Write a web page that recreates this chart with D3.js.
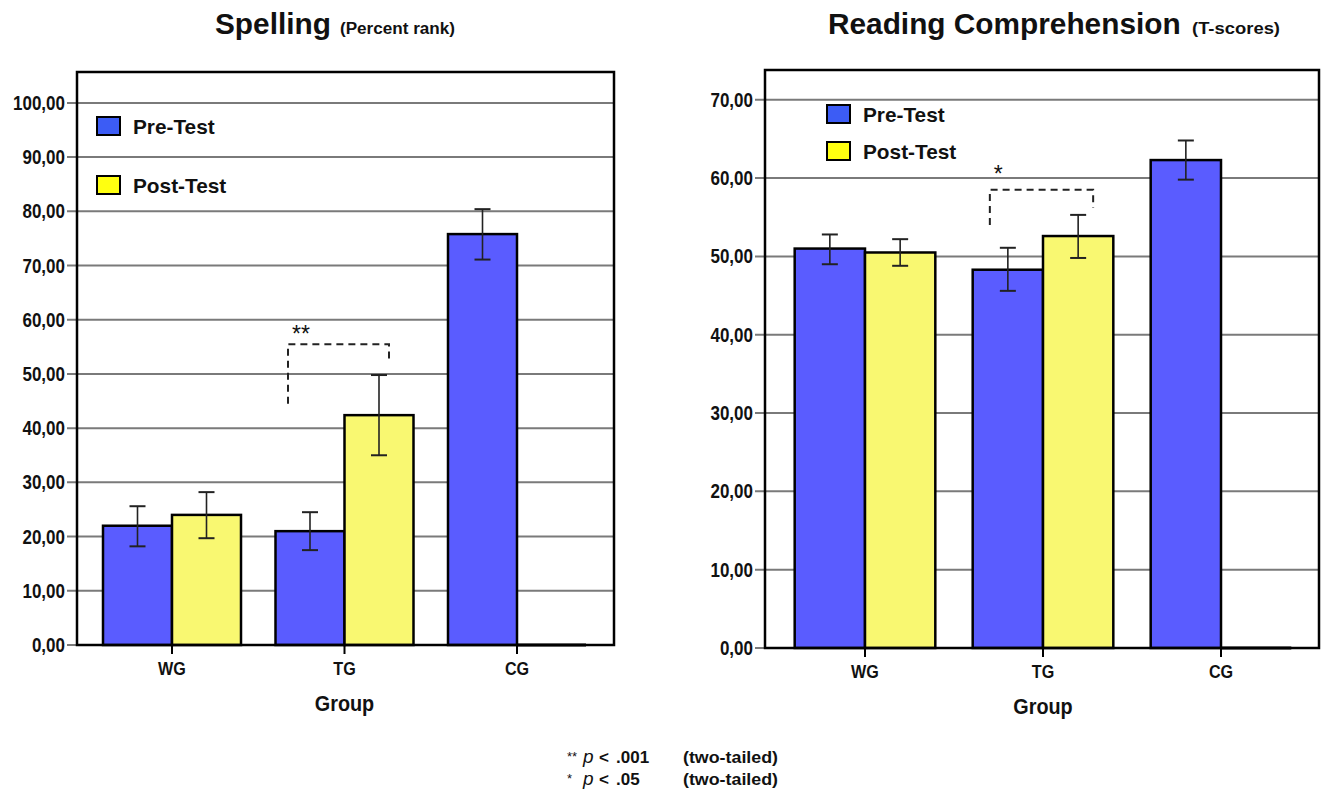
<!doctype html>
<html>
<head>
<meta charset="utf-8">
<script src="https://cdn.jsdelivr.net/npm/d3@7"></script>
<style>
  body { margin: 0; background: #fff; }
  svg { display: block; }
  text { font-family: "Liberation Sans", Arial, sans-serif; fill: #111; }
  .tick-lbl { font-weight: bold; font-size: 20px; }
  .cat-lbl { font-weight: bold; font-size: 19px; }
  .ax-title { font-weight: bold; font-size: 22px; }
  .legend-lbl { font-weight: bold; font-size: 21px; }
</style>
</head>
<body>
<svg id="chart" width="1321" height="795"></svg>
<script>
// ---- data ----
var groups = ["WG", "TG", "CG"];
var seriesNames = ["Pre-Test", "Post-Test"];

var spellingPre = [22.0, 21.0, 75.8];
var spellingPost = [24.0, 42.4, 0];
var spellingPreErr = [[18.2, 25.6], [17.5, 24.5], [71.1, 80.4]];
var spellingPostErr = [[19.7, 28.2], [35.0, 49.8], null];
var spellingTicks = [0, 10, 20, 30, 40, 50, 60, 70, 80, 90, 100];

var readingPre = [51.0, 48.3, 62.3];
var readingPost = [50.5, 52.6, 0];
var readingPreErr = [[49.0, 52.8], [45.6, 51.1], [59.8, 64.8]];
var readingPostErr = [[48.8, 52.2], [49.8, 55.3], null];
var readingTicks = [0, 10, 20, 30, 40, 50, 60, 70];

var colors = { bar: ["#5a5cff", "#f9f871"], swatch: ["#3c5cf5", "#ffff10"] };
var fmt = function (v) { return d3.format(".2f")(v).replace(".", ","); };

var svg = d3.select("#chart");

// squeeze text horizontally, the original uses a narrow font
function condense(sel, f) {
  sel.each(function () {
    var len = this.getComputedTextLength();
    d3.select(this).attr("textLength", len * f).attr("lengthAdjust", "spacingAndGlyphs");
  });
  return sel;
}

function drawPanel(cfg) {
  var g = svg.append("g");
  var x = d3.scaleBand().domain(groups).range([cfg.left + cfg.padL, cfg.right - cfg.padR]);
  var gw = x.bandwidth() * cfg.groupFrac;
  var xs = d3.scaleBand().domain(seriesNames).range([(x.bandwidth() - gw) / 2, (x.bandwidth() + gw) / 2]);
  var y = d3.scaleLinear().domain([0, cfg.yMax]).range([cfg.bottom, cfg.top]);

  // grid lines + y tick marks
  g.selectAll(".grid").data(cfg.ticks).join("line")
    .attr("x1", cfg.left - 10).attr("x2", cfg.right)
    .attr("y1", function (d) { return y(d); }).attr("y2", function (d) { return y(d); })
    .attr("stroke", "#7a7a7a").attr("stroke-width", 2);
  g.selectAll(".tick-lbl").data(cfg.ticks).join("text")
    .attr("class", "tick-lbl")
    .attr("x", cfg.left - 12).attr("y", function (d) { return y(d) + 7; })
    .attr("text-anchor", "end").text(fmt)
    .call(condense, 0.85);

  var rows = [];
  groups.forEach(function (grp, i) {
    rows.push({ grp: grp, s: 0, v: cfg.pre[i], err: cfg.preErr[i] });
    rows.push({ grp: grp, s: 1, v: cfg.post[i], err: cfg.postErr[i] });
  });

  // bars
  rows.forEach(function (r) {
    var x0 = x(r.grp) + xs(seriesNames[r.s]);
    if (r.v > 0) {
      g.append("rect")
        .attr("x", x0).attr("y", y(r.v))
        .attr("width", xs.bandwidth()).attr("height", y(0) - y(r.v))
        .attr("fill", colors.bar[r.s]).attr("stroke", "#000").attr("stroke-width", 2.5);
    } else {
      g.append("line")
        .attr("x1", x0).attr("x2", x0 + xs.bandwidth())
        .attr("y1", y(0)).attr("y2", y(0))
        .attr("stroke", "#000").attr("stroke-width", 3);
    }
  });

  // error bars
  rows.filter(function (r) { return r.err; }).forEach(function (r) {
    var cx = x(r.grp) + xs(seriesNames[r.s]) + xs.bandwidth() / 2;
    var eb = g.append("g").attr("stroke", "#222").attr("stroke-width", 1.6);
    eb.append("line").attr("x1", cx).attr("x2", cx).attr("y1", y(r.err[0])).attr("y2", y(r.err[1]));
    r.err.forEach(function (e) {
      eb.append("line").attr("x1", cx - 8).attr("x2", cx + 8).attr("y1", y(e)).attr("y2", y(e)).attr("stroke-width", 2);
    });
  });

  // frame
  g.append("rect")
    .attr("x", cfg.left).attr("y", cfg.top)
    .attr("width", cfg.right - cfg.left).attr("height", cfg.bottom - cfg.top)
    .attr("fill", "none").attr("stroke", "#000").attr("stroke-width", 2.5);

  // x ticks and labels
  groups.forEach(function (grp) {
    var cx = x(grp) + x.bandwidth() / 2;
    g.append("line").attr("x1", cx).attr("x2", cx).attr("y1", cfg.bottom).attr("y2", cfg.bottom + 9)
      .attr("stroke", "#000").attr("stroke-width", 2);
    g.append("text").attr("class", "cat-lbl").attr("x", cx).attr("y", cfg.bottom + 30)
      .attr("text-anchor", "middle").text(grp).call(condense, 0.85);
  });
  g.append("text").attr("class", "ax-title")
    .attr("x", x("TG") + x.bandwidth() / 2).attr("y", cfg.bottom + 66)
    .attr("text-anchor", "middle").text("Group").call(condense, 0.9);

  // legend
  seriesNames.forEach(function (s, i) {
    var ly = cfg.legendY[i];
    g.append("rect").attr("x", cfg.legendX).attr("y", ly - 9).attr("width", 23).attr("height", 18)
      .attr("fill", colors.swatch[i]).attr("stroke", "#000").attr("stroke-width", 2);
    g.append("text").attr("class", "legend-lbl").attr("x", cfg.legendX + 36).attr("y", ly + 8)
      .text(s).call(condense, 0.99);
  });

  // significance bracket
  var b = cfg.bracket;
  var bx1 = x(b.grp) + xs("Pre-Test") + xs.bandwidth() / 2 - b.insetL;
  var bx2 = x(b.grp) + xs("Post-Test") + xs.bandwidth() / 2 + b.insetR;
  g.append("path")
    .attr("d", "M" + bx1 + "," + y(b.leftEnd) + "V" + y(b.top) + "H" + bx2 + "V" + y(b.rightEnd))
    .attr("fill", "none").attr("stroke", "#222").attr("stroke-width", 2).attr("stroke-dasharray", "7,5");
  g.append("text").attr("x", bx1 + 4).attr("y", y(b.top) + b.labelDy)
    .attr("font-size", 23).attr("fill", "#222")
    .text(b.label);

  // title
  var t = g.append("text").attr("x", cfg.titleX).attr("y", 34).attr("font-weight", "bold");
  t.append("tspan").attr("font-size", 29.8).text(cfg.title);
  t.append("text");
  g.append("text").attr("x", cfg.subX).attr("y", 34).attr("font-weight", "bold").attr("font-size", 16)
    .attr("textLength", cfg.subW).attr("lengthAdjust", "spacingAndGlyphs").text(cfg.subtitle);
}

drawPanel({
  left: 77, right: 614, top: 72, bottom: 645, padL: 8.75, padR: 10.75, groupFrac: 0.8, yMax: 105.7,
  ticks: spellingTicks, pre: spellingPre, post: spellingPost,
  preErr: spellingPreErr, postErr: spellingPostErr,
  legendX: 97, legendY: [126, 185],
  bracket: { grp: "TG", insetL: 22, insetR: 10, top: 55.5, leftEnd: 44.5, rightEnd: 52.3, label: "**", labelDy: -2 },
  title: "Spelling", subtitle: "(Percent rank)", titleX: 215, subX: 340, subW: 115
});

drawPanel({
  left: 765, right: 1319, top: 70, bottom: 648, padL: 11, padR: 9, groupFrac: 0.79, yMax: 73.8,
  ticks: readingTicks, pre: readingPre, post: readingPost,
  preErr: readingPreErr, postErr: readingPostErr,
  legendX: 827, legendY: [114, 151],
  bracket: { grp: "TG", insetL: 18, insetR: 15, top: 58.5, leftEnd: 54.0, rightEnd: 56.2, label: "*", labelDy: -8 },
  title: "Reading Comprehension", subtitle: "(T-scores)", titleX: 828, subX: 1192, subW: 88
});

// footnote
var fn = svg.append("g").attr("font-size", 17);
function footLine(yb, stars, pval) {
  fn.append("text").attr("x", 567).attr("y", yb - 2).attr("font-size", 13).text(stars);
  fn.append("text").attr("x", 583).attr("y", yb).attr("font-style", "italic").attr("font-size", 19).text("p");
  fn.append("text").attr("x", 599).attr("y", yb).attr("font-weight", "bold").text("<");
  fn.append("text").attr("x", 616).attr("y", yb).attr("font-weight", "bold").text(pval);
  fn.append("text").attr("x", 683).attr("y", yb).attr("font-weight", "bold").text("(two-tailed)")
    .attr("textLength", 95).attr("lengthAdjust", "spacingAndGlyphs");
}
footLine(763, "**", ".001");
footLine(785, "*", ".05");
</script>
</body>
</html>
